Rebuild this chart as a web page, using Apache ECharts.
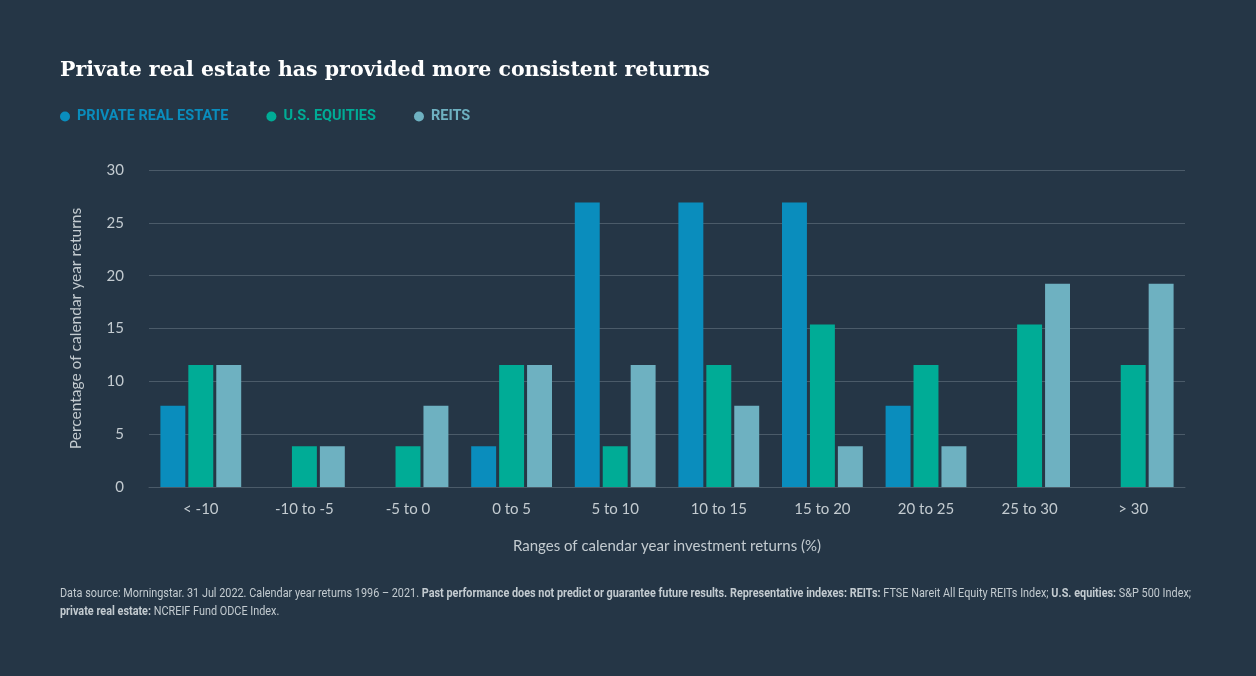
<!DOCTYPE html>
<html>
<head>
<meta charset="utf-8">
<script src="https://cdn.jsdelivr.net/npm/echarts@6/dist/echarts.min.js"></script>
<style>
  html, body { margin: 0; padding: 0; background: #253646; }
  #chart { width: 1256px; height: 676px; }
</style>
</head>
<body>
<div id="chart"></div>
<script>
// share of the 26 calendar years (1996-2021) falling in each range
var categories = ['< -10', '-10 to -5', '-5 to 0', '0 to 5', '5 to 10', '10 to 15', '15 to 20', '20 to 25', '25 to 30', '> 30'];
var privateRealEstate = [7.69, 0, 0, 3.85, 26.92, 26.92, 26.92, 7.69, 0, 0];
var usEquities = [11.54, 3.85, 3.85, 11.54, 3.85, 11.54, 15.38, 11.54, 15.38, 11.54];
var reits = [11.54, 3.85, 7.69, 11.54, 11.54, 7.69, 3.85, 3.85, 19.23, 19.23];
var yTicks = [0, 5, 10, 15, 20, 25, 30];

var colors = ['#0a8dbd', '#00ac96', '#6eb1c1'];
var labelColor = '#c3cbd0';

var myChart = echarts.init(document.getElementById('chart'));

var option = {
	backgroundColor: '#253646',
	color: colors,
	title: {
		text: 'Private real estate has provided more consistent returns',
		left: 60,
		top: 60,
		padding: 0,
		textStyle: {
			fontFamily: "'DejaVu Serif', 'Liberation Serif', serif",
			fontWeight: 'bold',
			fontSize: 20.5,
			color: '#ffffff'
		}
	},
	legend: {
		left: 60,
		top: 109,
		padding: 0,
		icon: 'circle',
		itemWidth: 10,
		itemHeight: 10,
		itemGap: 38,
		data: [
			{ name: 'PRIVATE REAL ESTATE', textStyle: { color: colors[0] } },
			{ name: 'U.S. EQUITIES', textStyle: { color: colors[1] } },
			{ name: 'REITS', textStyle: { color: colors[2] } }
		],
		textStyle: {
			fontFamily: 'Roboto, sans-serif',
			fontWeight: 'bold',
			fontSize: 14.5,
			padding: [0, 0, 0, 2]
		}
	},
	grid: {
		left: 149,
		right: 71,
		top: 170,
		bottom: 189,
		containLabel: false
	},
	xAxis: {
		type: 'category',
		data: categories,
		name: 'Ranges of calendar year investment returns (%)',
		nameLocation: 'middle',
		nameGap: 52,
		nameTextStyle: { color: labelColor, fontSize: 15, fontFamily: 'Lato, sans-serif' },
		axisLine: { lineStyle: { color: '#4b5b69' } },
		axisTick: { show: false },
		axisLabel: { color: labelColor, fontSize: 15, fontFamily: 'Lato, sans-serif', margin: 15 }
	},
	yAxis: {
		type: 'value',
		min: yTicks[0],
		max: yTicks[yTicks.length - 1],
		interval: 5,
		name: 'Percentage of calendar year returns',
		nameLocation: 'middle',
		nameGap: 65,
		nameTextStyle: { color: labelColor, fontSize: 15.5, fontFamily: 'Lato, sans-serif' },
		axisLine: { show: false },
		axisTick: { show: false },
		axisLabel: { color: labelColor, fontSize: 15, fontFamily: 'Lato, sans-serif', margin: 25 },
		splitLine: { lineStyle: { color: '#4b5b69', width: 1 } }
	},
	series: [
		{ name: 'PRIVATE REAL ESTATE', type: 'bar', data: privateRealEstate, barGap: '12%', barCategoryGap: '22%' },
		{ name: 'U.S. EQUITIES', type: 'bar', data: usEquities, barGap: '12%', barCategoryGap: '22%' },
		{ name: 'REITS', type: 'bar', data: reits, barGap: '12%', barCategoryGap: '22%' }
	],
	graphic: [
		{
			type: 'text',
			x: 60,
			y: 585,
			scaleX: 0.835,
			style: {
				text: '{n|Data source: Morningstar. 31 Jul 2022. Calendar year returns 1996 – 2021. }{b|Past performance does not predict or guarantee future results. Representative indexes: REITs:}{n| FTSE Nareit All Equity REITs Index; }{b|U.S. equities:}{n| S&P 500 Index;}\n{b|private real estate:}{n| NCREIF Fund ODCE Index.}',
				fill: labelColor,
				rich: {
					n: { fontFamily: 'Roboto, sans-serif', fontSize: 13, fill: labelColor, lineHeight: 18 },
					b: { fontFamily: 'Roboto, sans-serif', fontSize: 13, fontWeight: 'bold', fill: labelColor, lineHeight: 18 }
				}
			}
		}
	]
};

myChart.setOption(option);
</script>
</body>
</html>
